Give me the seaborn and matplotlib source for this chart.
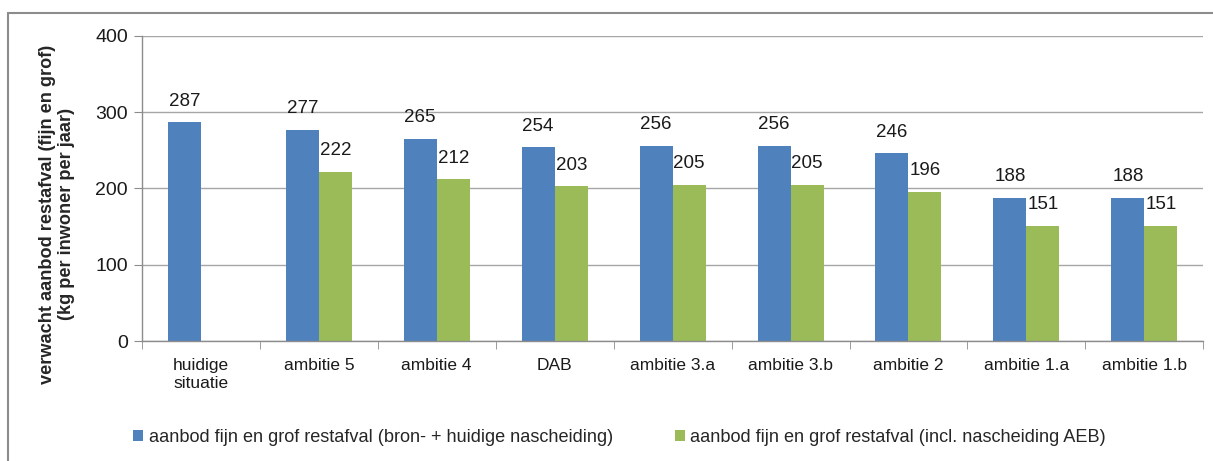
import matplotlib
matplotlib.use('Agg')
import matplotlib.pyplot as plt
from matplotlib.lines import Line2D
import numpy as np
import pandas as pd
import seaborn as sns

categories = ['huidige\nsituatie', 'ambitie 5', 'ambitie 4', 'DAB', 'ambitie 3.a',
              'ambitie 3.b', 'ambitie 2', 'ambitie 1.a', 'ambitie 1.b']
bron = [287, 277, 265, 254, 256, 256, 246, 188, 188]
aeb = [np.nan, 222, 212, 203, 205, 205, 196, 151, 151]
series = ['aanbod fijn en grof restafval (bron- + huidige nascheiding)',
          'aanbod fijn en grof restafval (incl. nascheiding AEB)']
colors = ['#4F81BD', '#9BBB59']

df = pd.DataFrame({
    'categorie': categories * 2,
    'waarde': bron + aeb,
    'reeks': [series[0]] * len(bron) + [series[1]] * len(aeb),
})

sns.set_style('white')
plt.rcParams['font.family'] = ['Liberation Sans', 'DejaVu Sans']

fig = plt.figure(figsize=(12.13, 4.61), dpi=100)
ax = fig.add_axes([0.117, 0.2603, 0.875, 0.6617])

sns.barplot(data=df, x='categorie', y='waarde', hue='reeks', hue_order=series,
            palette=colors, width=0.56, gap=0, saturation=1, ax=ax,
            errorbar=None, linewidth=0)

# value labels above bars
for cont in ax.containers:
    for bar, val in zip(cont, cont.datavalues):
        if np.isnan(val):
            continue
        ax.annotate(f'{val:.0f}', (bar.get_x() + bar.get_width() / 2, val),
                    xytext=(0, 9), textcoords='offset points',
                    ha='center', va='bottom', fontsize=13.5, color='#1a1a1a')

ax.set_ylim(0, 400)
ax.set_yticks([0, 100, 200, 300, 400])
ax.set_xlim(-0.5, len(categories) - 0.5)
ax.yaxis.grid(True, color='#a6a6a6', linewidth=1)
ax.set_axisbelow(True)
ax.set_xlabel('')
ax.set_ylabel('')

for s in ['top', 'right']:
    ax.spines[s].set_visible(False)
for s in ['left', 'bottom']:
    ax.spines[s].set_color('#8c8c8c')
    ax.spines[s].set_linewidth(1)

ax.tick_params(axis='y', labelsize=14, length=6, color='#8c8c8c', left=True,
               pad=4, labelcolor='#1a1a1a')
ax.tick_params(axis='x', which='major', labelsize=12.5, length=0, pad=12,
               labelcolor='#1a1a1a')
for lab in ax.get_xticklabels():
    lab.set_linespacing(1.3)
ax.set_xticks(np.arange(-0.5, len(categories), 1), minor=True)
ax.tick_params(axis='x', which='minor', length=6, color='#8c8c8c', bottom=True)

ax.legend(loc='center', bbox_to_anchor=(0.45, -0.315), ncol=2, frameon=False,
          fontsize=13.1, handlelength=0.55, handleheight=0.55, handletextpad=0.3,
          columnspacing=3.4)

fig.text(57 / 1213, 1 - 214 / 461,
         'verwacht aanbod restafval (fijn en grof)\n(kg per inwoner per jaar)',
         rotation=90, ha='center', va='center', fontsize=13.1, fontweight='bold',
         multialignment='center', linespacing=1.1)

# outer chart frame (only left and top edges visible)
fig.add_artist(Line2D([8 / 1213, 8 / 1213], [0, 1 - 13 / 461],
                      transform=fig.transFigure, color='#8c8c8c', linewidth=1.5))
fig.add_artist(Line2D([8 / 1213, 1], [1 - 13 / 461, 1 - 13 / 461],
                      transform=fig.transFigure, color='#8c8c8c', linewidth=1.5))

fig.savefig('out.png', dpi=100)
